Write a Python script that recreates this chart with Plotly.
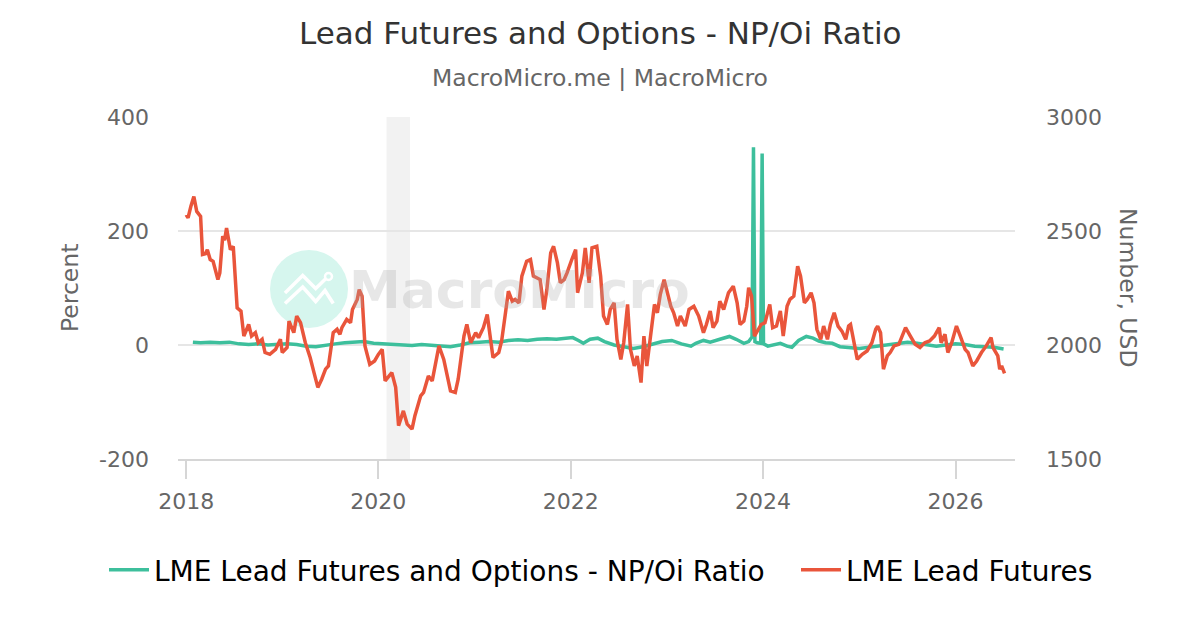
import pandas as pd
import plotly.graph_objects as go

# LME Lead Futures, USD (x in decimal years)
lead_years = [
    2018.00, 2018.02, 2018.05, 2018.08, 2018.11, 2018.15, 2018.17, 2018.20, 2018.22, 2018.25,
    2018.28, 2018.33, 2018.35, 2018.38, 2018.40, 2018.42, 2018.46, 2018.49, 2018.53, 2018.57,
    2018.60, 2018.65, 2018.68, 2018.72, 2018.75, 2018.79, 2018.82, 2018.87, 2018.93, 2018.98,
    2019.00, 2019.05, 2019.07, 2019.12, 2019.15, 2019.19, 2019.24, 2019.29, 2019.33, 2019.37,
    2019.41, 2019.45, 2019.48, 2019.53, 2019.57, 2019.60, 2019.62, 2019.67, 2019.71, 2019.73,
    2019.78, 2019.80, 2019.83, 2019.86, 2019.91, 2019.96, 2020.00, 2020.04, 2020.07, 2020.11,
    2020.14, 2020.18, 2020.21, 2020.26, 2020.30, 2020.35, 2020.38, 2020.44, 2020.47, 2020.52,
    2020.56, 2020.61, 2020.63, 2020.68, 2020.75, 2020.80, 2020.83, 2020.89, 2020.92, 2020.96,
    2021.01, 2021.04, 2021.09, 2021.13, 2021.16, 2021.19, 2021.25, 2021.28, 2021.32, 2021.35,
    2021.39, 2021.42, 2021.46, 2021.49, 2021.54, 2021.58, 2021.61, 2021.65, 2021.68, 2021.72,
    2021.75, 2021.79, 2021.82, 2021.86, 2021.89, 2021.93, 2021.96, 2022.01, 2022.05, 2022.07,
    2022.12, 2022.15, 2022.19, 2022.22, 2022.27, 2022.31, 2022.34, 2022.38, 2022.41, 2022.45,
    2022.48, 2022.52, 2022.55, 2022.59, 2022.62, 2022.66, 2022.69, 2022.73, 2022.76, 2022.79,
    2022.83, 2022.87, 2022.90, 2022.93, 2022.97, 2023.00, 2023.04, 2023.07, 2023.11, 2023.14,
    2023.19, 2023.23, 2023.28, 2023.33, 2023.38, 2023.41, 2023.45, 2023.48, 2023.52, 2023.55,
    2023.59, 2023.64, 2023.69, 2023.73, 2023.76, 2023.80, 2023.83, 2023.85, 2023.88, 2023.91,
    2023.95, 2023.98, 2024.02, 2024.07, 2024.10, 2024.14, 2024.18, 2024.21, 2024.25, 2024.28,
    2024.32, 2024.36, 2024.39, 2024.43, 2024.46, 2024.50, 2024.53, 2024.56, 2024.60, 2024.63,
    2024.67, 2024.70, 2024.74, 2024.78, 2024.82, 2024.86, 2024.89, 2024.91, 2024.94, 2024.98,
    2025.03, 2025.08, 2025.13, 2025.17, 2025.19, 2025.22, 2025.25, 2025.29, 2025.32, 2025.36,
    2025.41, 2025.46, 2025.48, 2025.53, 2025.58, 2025.63, 2025.68, 2025.73, 2025.78, 2025.83,
    2025.85, 2025.89, 2025.92, 2025.96, 2026.01, 2026.05, 2026.10, 2026.13, 2026.18, 2026.22,
    2026.27, 2026.32, 2026.37, 2026.39, 2026.44, 2026.46, 2026.48, 2026.51,
]
lead_usd = [
    2571, 2558, 2610, 2651, 2586, 2564, 2397, 2400, 2418, 2375,
    2367, 2287, 2316, 2477, 2460, 2513, 2418, 2433, 2163, 2149,
    2039, 2090, 2039, 2054, 2010, 2025, 1967, 1959, 1981, 2025,
    1967, 1989, 2105, 2054, 2127, 2098, 2010, 1945, 1879, 1814,
    1850, 1894, 1908, 2054, 2069, 2047, 2076, 2112, 2098, 2156,
    2200, 2243, 2214, 1996, 1915, 1930, 1959, 1981, 1843, 1864,
    1879, 1814, 1646, 1711, 1653, 1631, 1690, 1777, 1792, 1864,
    1843, 1952, 1996, 1937, 1799, 1792, 1850, 2039, 2090, 2010,
    2054, 2032, 2076, 2134, 2025, 1945, 1967, 2018, 2141, 2236,
    2192, 2200, 2185, 2302, 2367, 2375, 2302, 2295, 2287, 2156,
    2243, 2404, 2433, 2360, 2273, 2287, 2316, 2375, 2418, 2229,
    2316, 2426, 2273, 2426, 2433, 2302, 2127, 2090, 2156, 2185,
    2025, 1937, 2010, 2178, 1981, 1908, 1952, 1835, 2039, 1908,
    2039, 2178, 2141, 2221, 2287, 2236, 2170, 2141, 2083, 2127,
    2083, 2156, 2170, 2127, 2054, 2090, 2149, 2076, 2105, 2192,
    2156, 2229, 2258, 2185, 2090, 2105, 2170, 2251, 2214, 2039,
    2069, 2090, 2098, 2178, 2076, 2083, 2149, 2039, 2170, 2200,
    2214, 2345, 2302, 2185, 2200, 2229, 2185, 2069, 2025, 2083,
    2025, 2090, 2141, 2083, 2061, 2025, 2083, 2090, 2025, 1937,
    1959, 1974, 2010, 2069, 2083, 2054, 1894, 1952, 1967, 1996,
    2003, 2054, 2076, 2039, 2003, 1989, 2010, 2018, 2039, 2076,
    2010, 2047, 1967, 2010, 2083, 2039, 1981, 1967, 1908, 1930,
    1967, 1996, 2032, 1989, 1952, 1894, 1908, 1876,
]

# LME Lead Futures and Options - NP/Oi Ratio, percent
ratio_years = [
    2018.07, 2018.15, 2018.25, 2018.35, 2018.45, 2018.55, 2018.65, 2018.75, 2018.85, 2018.95,
    2019.05, 2019.15, 2019.25, 2019.35, 2019.45, 2019.55, 2019.65, 2019.75, 2019.85, 2019.95,
    2020.05, 2020.15, 2020.25, 2020.35, 2020.45, 2020.55, 2020.65, 2020.75, 2020.85, 2020.95,
    2021.05, 2021.15, 2021.25, 2021.35, 2021.45, 2021.55, 2021.65, 2021.75, 2021.85, 2021.95,
    2022.02, 2022.08, 2022.13, 2022.20, 2022.28, 2022.35, 2022.45, 2022.55, 2022.65, 2022.75,
    2022.85, 2022.95, 2023.05, 2023.15, 2023.25, 2023.30, 2023.38, 2023.45, 2023.55, 2023.65,
    2023.72, 2023.80, 2023.85, 2023.885, 2023.90, 2023.915, 2023.94, 2023.975, 2023.99, 2024.005,
    2024.05, 2024.10, 2024.18, 2024.25, 2024.30, 2024.37, 2024.45, 2024.52, 2024.58, 2024.65,
    2024.72, 2024.80, 2024.90, 2025.00, 2025.10, 2025.20, 2025.30, 2025.40, 2025.50, 2025.60,
    2025.70, 2025.80, 2025.90, 2026.00, 2026.10, 2026.20, 2026.30, 2026.40, 2026.50,
]
ratio_pct = [
    5, 4, 5, 4, 5, 2, 1, 2, 0, 1,
    2, 1, -2, -3, 0, 2, 4, 5, 6, 3,
    2, 0, -1, -1, 1, 0, -2, -3, 0, 4,
    5, 6, 5, 8, 9, 8, 10, 11, 10, 12,
    13, 8, 3, 10, 12, 6, 0, -3, -6, -3,
    2, 6, 8, 2, -2, 3, 8, 5, 10, 15,
    10, 3, 6, 14, 347, 6, 4, 3, 336, 2,
    -2, 0, 3, -2, -4, 8, 15, 12, 7, 4,
    3, -3, -5, -6, -4, -2, 0, 2, 5, 3,
    0, -2, 0, 2, 1, -2, -3, -4, -7,
]

# recession band
band_start, band_end = "2020-02-01", "2020-04-30"

pct_ticks = [-200, 0, 200, 400]
pct_labels = ["-200", "0", "200", "400"]
usd_ticks = [1500, 2000, 2500, 3000]
year_ticks = ["2018-01-01", "2020-01-01", "2022-01-01", "2024-01-01", "2026-01-01"]
year_labels = ["2018", "2020", "2022", "2024", "2026"]

GREEN = "#3dbf9c"
RED = "#e9553b"
FONT = "DejaVu Sans"
GREY = "#666666"


def to_dates(years):
    # decimal year -> timestamp
    out = []
    for y in years:
        base = pd.Timestamp(year=int(y), month=1, day=1)
        out.append(base + pd.Timedelta(days=(y - int(y)) * 365.25))
    return out


# plot area in pixels (for placing decorations)
L, R, T, B = 178, 1015, 117, 459


def px(x, y):
    return (x - L) / (R - L), (B - y) / (B - T)


fig = go.Figure()

fig.add_trace(go.Scatter(
    x=to_dates(ratio_years), y=ratio_pct, name="LME Lead Futures and Options - NP/Oi Ratio",
    mode="lines", line=dict(color=GREEN, width=3.5), yaxis="y", legend="legend",
))
fig.add_trace(go.Scatter(
    x=to_dates(lead_years), y=lead_usd, name="LME Lead Futures",
    mode="lines", line=dict(color=RED, width=3.5), yaxis="y2", legend="legend2",
))

# recession shading
fig.add_vrect(x0=band_start, x1=band_end, fillcolor="#f2f2f2", line_width=0, layer="below")

# watermark: circle + icon + text
cx0, cy0 = px(270, 250)
cx1, cy1 = px(348, 328)
fig.add_shape(type="circle", xref="paper", yref="paper", x0=cx0, y0=cy1, x1=cx1, y1=cy0,
              fillcolor="#d6f6ee", line_width=0, layer="below")


def path_of(points):
    parts = []
    for i, (x, y) in enumerate(points):
        a, b = px(x, y)
        parts.append(("M" if i == 0 else "L") + f"{a:.4f},{b:.4f}")
    return " ".join(parts)


upper = [(285, 293), (302.7, 275.5), (315.7, 288.5), (325.5, 279)]
lower = [(285, 303.5), (302.7, 287), (315.7, 301.5), (325, 290.5), (333.3, 303.5)]
for pts in (upper, lower):
    fig.add_shape(type="path", xref="paper", yref="paper", path=path_of(pts),
                  line=dict(color="white", width=3.5), layer="below")
dx0, dy0 = px(325, 273)
dx1, dy1 = px(332, 280)
fig.add_shape(type="circle", xref="paper", yref="paper", x0=dx0, y0=dy1, x1=dx1, y1=dy0,
              line=dict(color="white", width=2.5), fillcolor="#d6f6ee", layer="below")


def label(text, x, y, size, color, angle=0):
    fig.add_annotation(text=text, xref="paper", yref="paper", x=px(x, 0)[0], y=px(0, y)[1],
                       xanchor="center", yanchor="middle", textangle=angle, showarrow=False,
                       font=dict(family=FONT, size=size, color=color))


label("<b>MacroMicro</b>", 519, 290, 52, "rgba(170,170,170,0.28)")
label("Lead Futures and Options - NP/Oi Ratio", 600, 33, 31, "#333333")
label("MacroMicro.me | MacroMicro", 600, 78, 23.5, GREY)
label("Percent", 70, 288, 23.5, GREY, -90)
# right axis title reads top-to-bottom
label("Number, USD", 1128, 288, 23.5, GREY, 90)

legend_style = dict(orientation="h", xanchor="left", y=px(0, 570)[1], yanchor="middle",
                    font=dict(family=FONT, size=28, color="#000000"), itemwidth=40,
                    bgcolor="rgba(0,0,0,0)")

fig.update_layout(
    width=1200, height=630,
    margin=dict(l=L, r=1200 - R, t=T, b=630 - B, autoexpand=False),
    paper_bgcolor="white", plot_bgcolor="white",
    font=dict(family=FONT, color=GREY),
    showlegend=True,
    legend=dict(x=px(104, 0)[0], **legend_style),
    legend2=dict(x=px(796, 0)[0], **legend_style),
    xaxis=dict(
        type="date", range=["2017-12-01", "2026-08-15"],
        tickvals=year_ticks, ticktext=year_labels,
        showgrid=False, zeroline=False,
        showline=True, linecolor="#d6d6d6", linewidth=2,
        ticks="outside", ticklen=18, tickwidth=2, tickcolor="#d6d6d6",
        ticklabelstandoff=4,
        tickfont=dict(family=FONT, size=22, color=GREY),
    ),
    yaxis=dict(
        range=[-200, 400], tickvals=pct_ticks, ticktext=pct_labels,
        showgrid=True, gridcolor="#e6e6e6", gridwidth=1.5, zeroline=False,
        ticklabelstandoff=28,
        tickfont=dict(family=FONT, size=22, color=GREY),
    ),
    yaxis2=dict(
        range=[1500, 3000], tickvals=usd_ticks, overlaying="y", side="right",
        showgrid=False, zeroline=False,
        ticklabelstandoff=30,
        tickfont=dict(family=FONT, size=22, color=GREY),
    ),
)

fig.write_html("out.html", config={"displayModeBar": False},
               post_script="document.body.style.margin='0';")
